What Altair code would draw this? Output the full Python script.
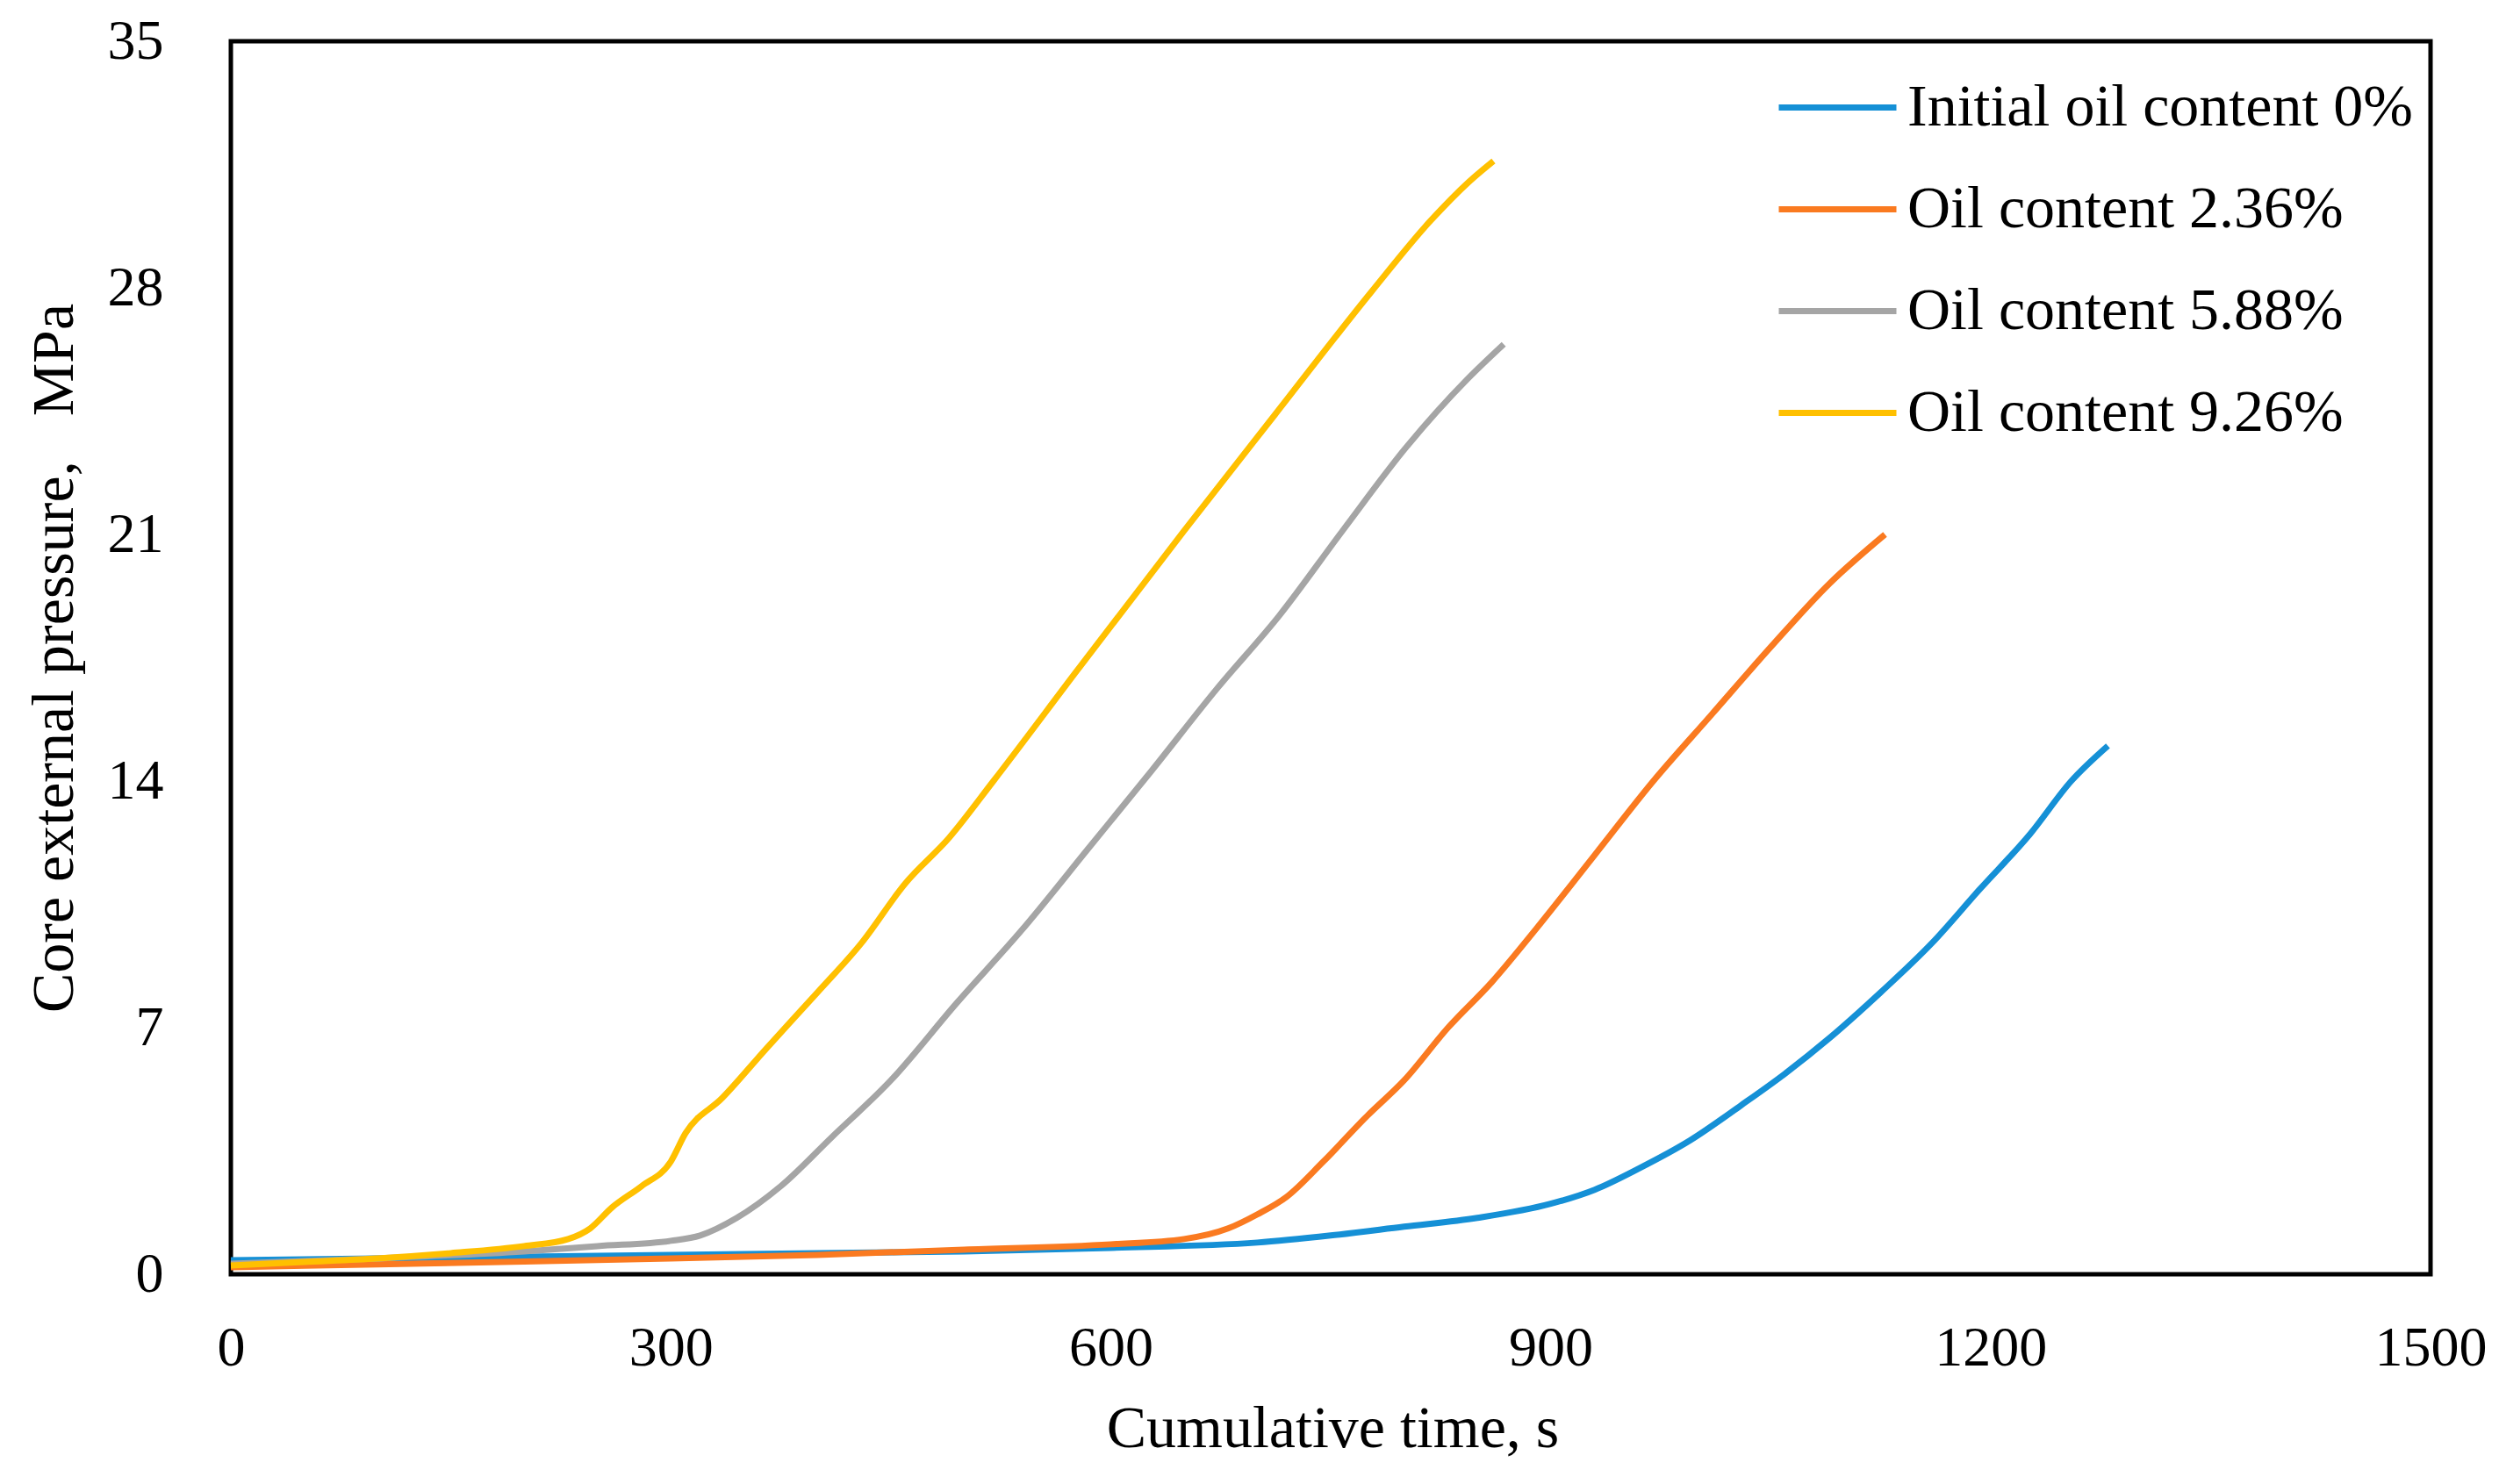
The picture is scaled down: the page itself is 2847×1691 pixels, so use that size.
import altair as alt
import pandas as pd

# ---- data ----
series_names = ["Initial oil content 0%", "Oil content 2.36%", "Oil content 5.88%", "Oil content 9.26%"]
series_colors = ["#1590D6", "#FA7A20", "#A5A5A5", "#FFC000"]

t_0 = [0, 100, 200, 300, 400, 500, 600, 700, 750, 800, 850, 900, 930, 960, 995, 1030, 1060, 1090, 1125, 1160, 1192, 1227, 1255, 1280]
p_0 = [0.4, 0.45, 0.5, 0.55, 0.6, 0.65, 0.75, 0.9, 1.1, 1.35, 1.6, 2.0, 2.4, 3.0, 3.8, 4.8, 5.7, 6.7, 8.0, 9.4, 10.9, 12.5, 14.0, 15.0]

t_236 = [0, 100, 200, 300, 400, 500, 600, 650, 680, 700, 720, 745, 775, 800, 830, 860, 890, 930, 970, 1010, 1050, 1090, 1128]
p_236 = [0.2, 0.28, 0.36, 0.45, 0.55, 0.7, 0.85, 1.0, 1.3, 1.7, 2.2, 3.2, 4.5, 5.5, 7.0, 8.3, 9.8, 11.9, 14.0, 15.9, 17.8, 19.6, 21.0]

t_588 = [0, 100, 200, 250, 300, 320, 345, 375, 410, 450, 495, 540, 585, 628, 672, 715, 758, 802, 843, 868]
p_588 = [0.3, 0.45, 0.65, 0.8, 0.95, 1.1, 1.6, 2.5, 3.9, 5.5, 7.7, 9.8, 12.1, 14.3, 16.6, 18.7, 21.1, 23.5, 25.4, 26.4]

t_926 = [0, 50, 100, 150, 200, 230, 245, 260, 280, 300, 310, 335, 365, 400, 430, 460, 490, 520, 580, 650, 712, 778, 818, 844, 861]
p_926 = [0.25, 0.35, 0.45, 0.6, 0.8, 1.0, 1.3, 1.9, 2.5, 3.2, 4.0, 5.0, 6.4, 8.0, 9.4, 11.1, 12.4, 14.0, 17.3, 21.1, 24.4, 27.9, 29.9, 31.0, 31.6]

x_ticks = [0, 300, 600, 900, 1200, 1500]
y_ticks = [0, 7, 14, 21, 28, 35]

rows = []
for name, ts, ps in zip(series_names, [t_0, t_236, t_588, t_926], [p_0, p_236, p_588, p_926]):
    for i, (t, p) in enumerate(zip(ts, ps)):
        rows.append({"series": name, "t": t, "p": p, "order": i})
df = pd.DataFrame(rows)

FONT = "Liberation Serif"
W, H = 2506, 1405

chart = alt.Chart(df).mark_line(strokeWidth=7, interpolate="monotone").encode(
    x=alt.X("t:Q",
            scale=alt.Scale(domain=[0, 1500], nice=False),
            axis=alt.Axis(values=x_ticks, format="d", title="Cumulative time, s", grid=False, domain=False,
                          ticks=False, tickSize=0, labelPadding=52, labelFontSize=64, labelFlush=False,
                          labelOverlap=False,
                          labelFont=FONT, labelColor="black", titleFont=FONT, titleFontSize=68,
                          titleFontWeight="normal", titleColor="black",
                          titleX=W / 2 + 2, titleY=176, titleBaseline="middle", titleAlign="center")),
    y=alt.Y("p:Q",
            scale=alt.Scale(domain=[0, 35], nice=False),
            axis=alt.Axis(values=y_ticks, format="d", title="Core external pressure,\u00a0\u00a0\u00a0MPa", grid=False,
                          domain=False, ticks=False, tickSize=0, labelPadding=77, labelFontSize=64,
                          labelFlush=False, labelOverlap=False,
                          labelFont=FONT, labelColor="black", titleFont=FONT, titleFontSize=68,
                          titleFontWeight="normal", titleColor="black",
                          titleX=-201, titleY=H / 2, titleBaseline="middle", titleAlign="center",
                          titleAngle=270)),
    color=alt.Color("series:N",
                    scale=alt.Scale(domain=series_names, range=series_colors),
                    sort=series_names,
                    legend=alt.Legend(title=None, orient="none", legendX=1760, legendY=5,
                                      symbolType="stroke", symbolSize=17956, symbolStrokeWidth=7,
                                      labelFont=FONT, labelFontSize=68, labelColor="black",
                                      labelOffset=9, rowPadding=11, labelLimit=1000)),
    order=alt.Order("order:Q"),
).properties(
    width=W,
    height=H,
    background="white",
    autosize=alt.AutoSizeParams(type="none"),
    padding={"left": 255, "top": 39, "right": 70, "bottom": 231},
).configure_view(
    stroke="black", strokeWidth=5
)

chart.save("out.html", embed_options={"renderer": "svg", "actions": False})
